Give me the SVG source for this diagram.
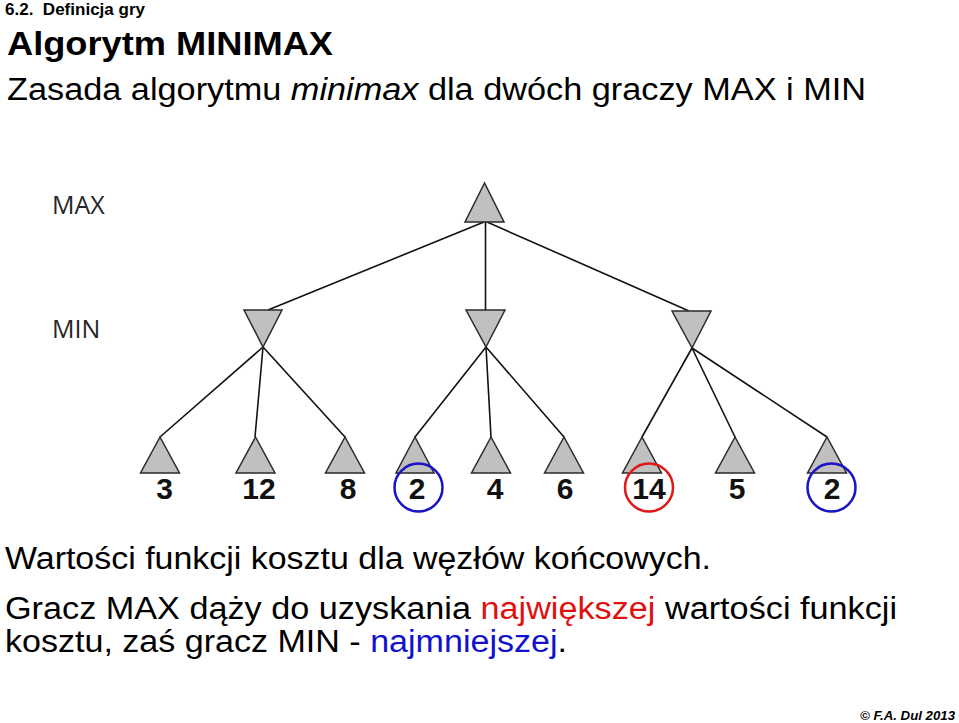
<svg xmlns="http://www.w3.org/2000/svg" width="959" height="723" viewBox="0 0 959 723">
<style>
.t { font-family: "Liberation Sans", Arial, sans-serif; fill: #000; }
.tri { fill: #c0c0c0; stroke: #2a2a2a; stroke-width: 1.5; stroke-linejoin: miter; }
.edge { stroke: #111; stroke-width: 1.6; fill: none; }
.num { font-family: "Liberation Sans", Arial, sans-serif; font-weight: bold; font-size: 30px; text-anchor: middle; fill: #111; }
.lvl { font-family: "Open Sans", "Liberation Sans", sans-serif; font-size: 25px; fill: #262626; }
.ring { fill: none; stroke-width: 2.5; }
.blue { stroke: #1a14c4; }
.red { stroke: #e01818; }
</style>
<rect width="959" height="723" fill="#fff"/>

<text class="t" x="5" y="15" font-size="16" font-weight="bold" textLength="140" lengthAdjust="spacingAndGlyphs" xml:space="preserve">6.2.  Definicja gry</text>
<text class="t" x="7" y="55" font-size="33" font-weight="bold" textLength="326" lengthAdjust="spacingAndGlyphs">Algorytm MINIMAX</text>
<text class="t" x="7" y="100" font-size="31" textLength="859" lengthAdjust="spacingAndGlyphs">Zasada algorytmu <tspan font-style="italic">minimax</tspan> dla dwóch graczy MAX i MIN</text>

<text class="lvl" x="52" y="214">MAX</text>
<text class="lvl" x="52" y="338">MIN</text>

<g id="connectors">
  <line class="edge" x1="484" y1="222" x2="268" y2="310"/>
  <line class="edge" x1="485.5" y1="222" x2="485.5" y2="310"/>
  <line class="edge" x1="487" y1="222" x2="689" y2="311"/>
  <line class="edge" x1="263" y1="347" x2="160" y2="437"/>
  <line class="edge" x1="263" y1="347" x2="255" y2="437"/>
  <line class="edge" x1="263" y1="347" x2="345" y2="437"/>
  <line class="edge" x1="486" y1="347" x2="415" y2="437"/>
  <line class="edge" x1="486" y1="347" x2="491" y2="437"/>
  <line class="edge" x1="486" y1="347" x2="564" y2="437"/>
  <line class="edge" x1="692" y1="348" x2="642" y2="437"/>
  <line class="edge" x1="692" y1="348" x2="735" y2="437"/>
  <line class="edge" x1="692" y1="348" x2="827" y2="437"/>
</g>

<g id="root"><polygon class="tri" points="484.5,183 465,222 504,222"/></g>
<g id="min1"><polygon class="tri" points="244,310 282,310 263,347"/></g>
<g id="min2"><polygon class="tri" points="466,310 505,310 486,347"/></g>
<g id="min3"><polygon class="tri" points="672,311 711,311 692,348"/></g>

<g id="leaf1"><polygon class="tri" points="160,437 140.5,473 179.5,473"/><text class="num" x="164.5" y="499">3</text></g>
<g id="leaf2"><polygon class="tri" points="255.5,437 236,473 275,473"/><text class="num" x="259" y="499">12</text></g>
<g id="leaf3"><polygon class="tri" points="345,437 325.5,473 364.5,473"/><text class="num" x="348" y="499">8</text></g>
<g id="leaf4"><polygon class="tri" points="415,437 396,473 434,473"/><text class="num" x="417" y="499">2</text><circle class="ring blue" cx="418.5" cy="487.5" r="24"/></g>
<g id="leaf5"><polygon class="tri" points="491,437 471.5,473 510.5,473"/><text class="num" x="495" y="499">4</text></g>
<g id="leaf6"><polygon class="tri" points="564,437 544.5,473 583.5,473"/><text class="num" x="565" y="499">6</text></g>
<g id="leaf7"><polygon class="tri" points="642,437 622.5,473 661.5,473"/><text class="num" x="649" y="499">14</text><circle class="ring red" cx="649" cy="487.5" r="24"/></g>
<g id="leaf8"><polygon class="tri" points="735,437 715.5,473 754.5,473"/><text class="num" x="737" y="499">5</text></g>
<g id="leaf9"><polygon class="tri" points="827,437 807.5,473 846.5,473"/><text class="num" x="832" y="499">2</text><circle class="ring blue" cx="831.5" cy="487.5" r="24"/></g>

<text class="t" x="5" y="569" font-size="31" textLength="706" lengthAdjust="spacingAndGlyphs">Wartości funkcji kosztu dla węzłów końcowych.</text>
<text class="t" x="5" y="619" font-size="31" textLength="892" lengthAdjust="spacingAndGlyphs">Gracz MAX dąży do uzyskania <tspan fill="#e01010">największej</tspan> wartości funkcji</text>
<text class="t" x="5" y="652" font-size="31" textLength="562" lengthAdjust="spacingAndGlyphs">kosztu, zaś gracz MIN - <tspan fill="#1010d0">najmniejszej</tspan>.</text>

<text class="t" x="860" y="720" font-size="13" font-weight="bold" font-style="italic" textLength="95" lengthAdjust="spacingAndGlyphs">© F.A. Dul 2013</text>
</svg>
